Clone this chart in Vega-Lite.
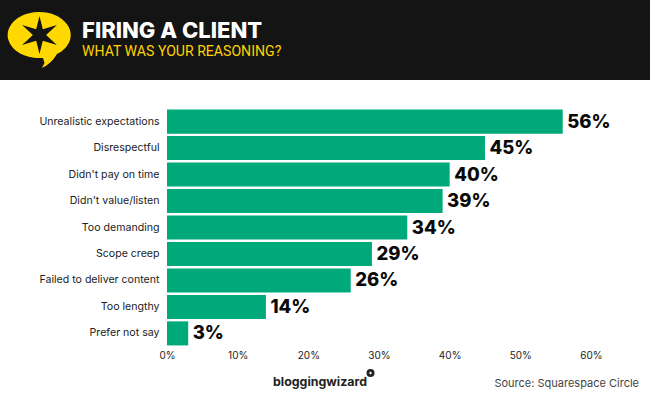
{"$schema":"https://vega.github.io/schema/vega-lite/v6.json","width":650,"height":400,"padding":0,"autosize":{"type":"none"},"background":"white","view":{"stroke":null},
"datasets":{"survey":[{"reason":"Unrealistic expectations","share":56,"label":"56%"},{"reason":"Disrespectful","share":45,"label":"45%"},{"reason":"Didn't pay on time","share":40,"label":"40%"},{"reason":"Didn't value/listen","share":39,"label":"39%"},{"reason":"Too demanding","share":34,"label":"34%"},{"reason":"Scope creep","share":29,"label":"29%"},{"reason":"Failed to deliver content","share":26,"label":"26%"},{"reason":"Too lengthy","share":14,"label":"14%"},{"reason":"Prefer not say","share":3,"label":"3%"}],
"head":[{"row":"title","text":"FIRING A CLIENT"},{"row":"subtitle","text":"WHAT WAS YOUR REASONING?"}]},
"layer":[
{"data":{"values":[{"part":"header"}]},"mark":{"type":"rect","fill":"#141414"},"encoding":{"y":{"field":"part","type":"nominal","axis":null,"scale":{"type":"band","domain":["header"],"range":[0,80],"paddingInner":0,"paddingOuter":0}}}},
{"data":{"values":[{"part":"bubble"}]},"mark":{"type":"point","filled":true,"opacity":1,"size":4096,"fill":"#ffd800","shape":"M0.531,0.44 A0.984,0.72 0 1 0 0.094,0.56 L0.14,0.72 L0.06,0.875 Q0.35,0.75 0.531,0.44 Z"},"encoding":{"x":{"field":"part","type":"nominal","axis":null,"scale":{"type":"point","domain":["bubble","x"],"range":[40,41],"padding":0}},"y":{"field":"part","type":"nominal","axis":null,"scale":{"type":"point","domain":["bubble","x"],"range":[40,41],"padding":0}}}},
{"data":{"values":[{"part":"star"}]},"mark":{"type":"point","filled":true,"opacity":1,"size":1600,"fill":"#141414","shape":"M0,-0.95 L0.165,-0.286 L0.87,-0.5 L0.33,0 L0.87,0.5 L0.165,0.286 L0,0.95 L-0.165,0.286 L-0.87,0.5 L-0.33,0 L-0.87,-0.5 L-0.165,-0.286 Z"},"encoding":{"x":{"field":"part","type":"nominal","axis":null,"scale":{"type":"point","domain":["star","x"],"range":[39.5,41],"padding":0}},"y":{"field":"part","type":"nominal","axis":null,"scale":{"type":"point","domain":["star","x"],"range":[35,41],"padding":0}}}},
{"data":{"name":"head"},"transform":[{"filter":"datum.row==='title'"}],"mark":{"type":"text","align":"left","baseline":"middle","font":"Inter","fontWeight":800,"fontSize":22,"fill":"#ffffff"},"encoding":{"text":{"field":"text"},"x":{"field":"row","type":"nominal","axis":null,"scale":{"type":"point","domain":["title","x"],"range":[82,90],"padding":0}},"y":{"field":"row","type":"nominal","axis":null,"scale":{"type":"point","domain":["title","subtitle"],"range":[31,51.5],"padding":0}}}},
{"data":{"name":"head"},"transform":[{"filter":"datum.row==='subtitle'"}],"mark":{"type":"text","align":"left","baseline":"middle","font":"Roboto","fontSize":14.1,"fill":"#ffd200"},"encoding":{"text":{"field":"text"},"x":{"field":"row","type":"nominal","axis":null,"scale":{"type":"point","domain":["subtitle","x"],"range":[82,90],"padding":0}},"y":{"field":"row","type":"nominal","axis":null,"scale":{"type":"point","domain":["title","subtitle"],"range":[31,51.5],"padding":0}}}},
{"data":{"name":"survey"},"mark":{"type":"bar","fill":"#00a97a"},"encoding":{"x":{"field":"share","type":"quantitative","scale":{"domain":[0,60],"range":[167,591],"nice":false,"zero":true},"axis":{"values":[0,10,20,30,40,50,60],"labelExpr":"datum.value+'%'","title":null,"domain":false,"ticks":false,"grid":false,"offset":-50,"labelPadding":0,"labelFont":"Inter","labelFontSize":10,"labelColor":"#222222","labelFlush":false}},"y":{"field":"reason","type":"nominal","sort":null,"scale":{"type":"band","range":[108.5,346.5],"paddingInner":0.09,"paddingOuter":0.04},"axis":{"title":null,"domain":false,"ticks":false,"offset":-159,"labelPadding":0,"labelFont":"Inter","labelFontSize":10.6,"labelColor":"#222222","labelLimit":200}}}},
{"data":{"name":"survey"},"mark":{"type":"text","align":"left","baseline":"middle","dx":4.5,"font":"Inter","fontWeight":800,"fontSize":18.5,"fill":"#0a0a0a"},"encoding":{"text":{"field":"label"},"x":{"field":"share","type":"quantitative","axis":null,"scale":{"domain":[0,60],"range":[167,591],"nice":false,"zero":true}},"y":{"field":"reason","type":"nominal","sort":null,"axis":null,"scale":{"type":"band","range":[108.5,346.5],"paddingInner":0.09,"paddingOuter":0.04}}}},
{"data":{"values":[{"item":"brand","text":"bloggingwizard"}]},"mark":{"type":"text","align":"left","baseline":"middle","font":"Inter","fontWeight":700,"fontSize":12.4,"fill":"#222222"},"encoding":{"text":{"field":"text"},"x":{"field":"item","type":"nominal","axis":null,"scale":{"type":"point","domain":["brand","x"],"range":[273,280],"padding":0}},"y":{"field":"item","type":"nominal","axis":null,"scale":{"type":"point","domain":["brand","x"],"range":[382,390],"padding":0}}}},
{"data":{"values":[{"item":"dot"}]},"mark":{"type":"point","filled":true,"opacity":1,"size":64,"fill":"#222222"},"encoding":{"x":{"field":"item","type":"nominal","axis":null,"scale":{"type":"point","domain":["dot","x"],"range":[370.5,380],"padding":0}},"y":{"field":"item","type":"nominal","axis":null,"scale":{"type":"point","domain":["dot","x"],"range":[373,390],"padding":0}}}},
{"data":{"values":[{"item":"spark"}]},"mark":{"type":"point","filled":true,"opacity":1,"size":9,"fill":"#ffffff","shape":"diamond"},"encoding":{"x":{"field":"item","type":"nominal","axis":null,"scale":{"type":"point","domain":["spark","x"],"range":[370.5,380],"padding":0}},"y":{"field":"item","type":"nominal","axis":null,"scale":{"type":"point","domain":["spark","x"],"range":[373,390],"padding":0}}}},
{"data":{"values":[{"item":"source","text":"Source: Squarespace Circle"}]},"mark":{"type":"text","align":"right","baseline":"middle","font":"Inter","fontSize":11,"fill":"#444444"},"encoding":{"text":{"field":"text"},"x":{"field":"item","type":"nominal","axis":null,"scale":{"type":"point","domain":["x","source"],"range":[600,639],"padding":0}},"y":{"field":"item","type":"nominal","axis":null,"scale":{"type":"point","domain":["x","source"],"range":[370,384],"padding":0}}}}
],"resolve":{"scale":{"x":"independent","y":"independent"}}}
